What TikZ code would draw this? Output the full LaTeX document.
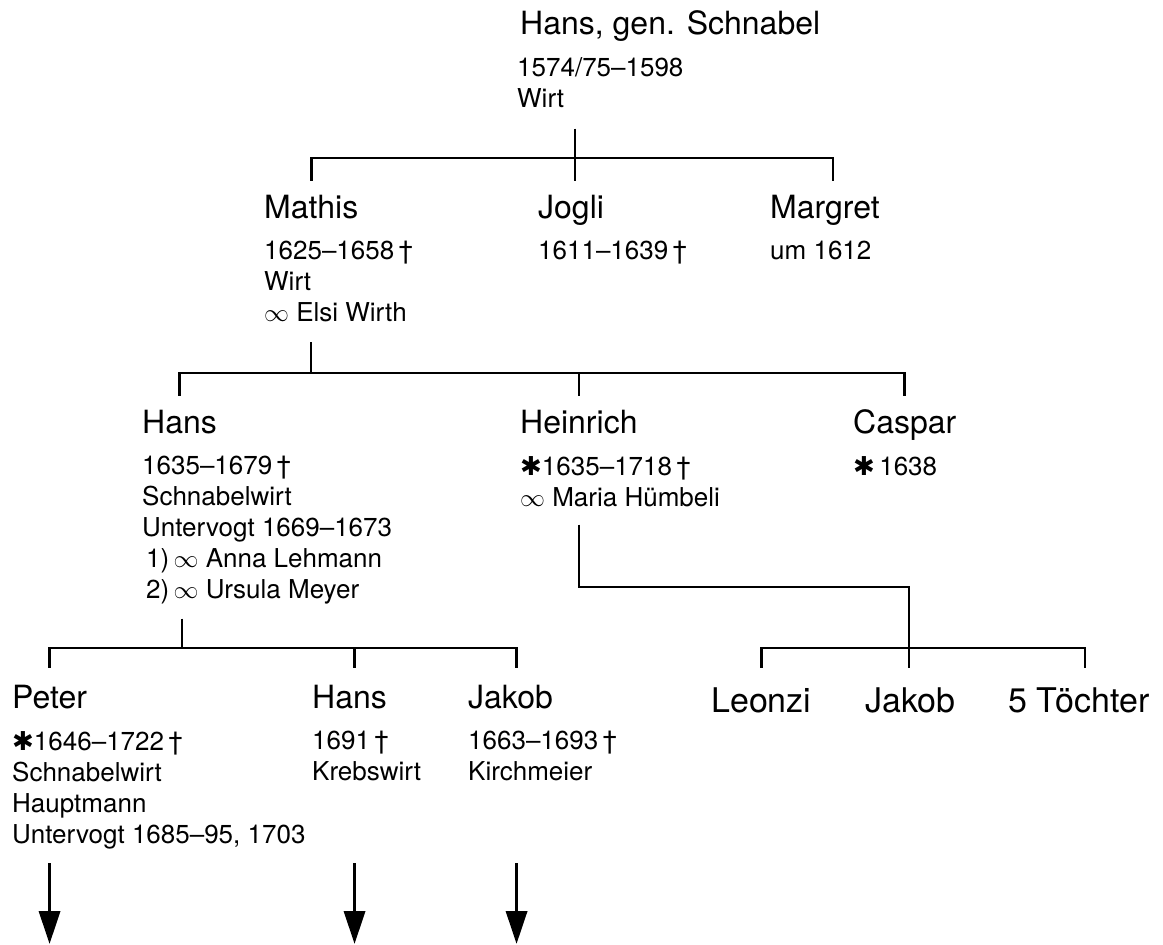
\documentclass[tikz,border=0pt]{standalone}
\usepackage{fontspec}
\setmainfont{TeX Gyre Heros}
\newfontfamily\symfont{DejaVu Sans}
\usetikzlibrary{positioning,arrows.meta}

\newcommand{\dd}{\,\textdagger}
\newcommand{\born}{{\symfont ✱}}
\newcommand{\marr}{$\infty$}

\begin{document}
\begin{tikzpicture}[x=1pt,y=-1pt,
	person/.style={font=\fontsize{32}{32}\selectfont, inner sep=0pt, text height=22pt, anchor=base west},
	kid/.style={person, font=\fontsize{34}{34}\selectfont, text height=24pt},
	info/.style={font=\fontsize{26}{31}\selectfont, align=left, inner sep=0pt},
	under/.style={below=23pt of #1, anchor=north west},
	tree/.style={line width=2.6pt},
	descent/.style={line width=3.6pt, -{Triangle[length=33pt,width=21pt]}}]
	\useasboundingbox (0,0) rectangle (1163,945);

	% Stammvater
	\node[person] (schnabel) at (520,34) {Hans, gen. Schnabel};
	\node[info, under=schnabel.base west, xshift=-3pt] (schnabelinfo) {1574/75--1598\\Wirt};

	% 2. Generation
	\node[person] (mathis) at (264,218) {Mathis};
	\node[person] (jogli) at (538,218) {Jogli};
	\node[person] (margret) at (770,218) {Margret};
	\node[info, under=mathis.base west] (mathisinfo) {1625--1658\dd\\Wirt\\\marr{} Elsi Wirth};
	\node[info, under=jogli.base west] (jogliinfo) {1611--1639\dd};
	\node[info, under=margret.base west] (margretinfo) {um 1612};

	% 3. Generation
	\node[person] (hans) at (142,433) {Hans};
	\node[person] (heinrich) at (520,433) {Heinrich};
	\node[person] (caspar) at (853,433) {Caspar};
	\node[info, under=hans.base west] (hansinfo) {1635--1679\dd\\Schnabelwirt\\Untervogt 1669--1673\\\hspace*{4pt}1)\,\marr{} Anna Lehmann\\\hspace*{4pt}2)\,\marr{} Ursula Meyer};
	\node[info, under=heinrich.base west] (heinrichinfo) {\born1635--1718\dd\\\marr{} Maria Hümbeli};
	\node[info, under=caspar.base west] (casparinfo) {\born\,1638};

	% 4. Generation
	\node[person] (peter) at (12,708) {Peter};
	\node[person] (hansk) at (312,708) {Hans};
	\node[person] (jakob) at (468,708) {Jakob};
	\node[info, under=peter.base west] (peterinfo) {\born1646--1722\dd\\Schnabelwirt\\Hauptmann\\Untervogt 1685--95, 1703};
	\node[info, under=hansk.base west] (hanskinfo) {1691\dd\\Krebswirt};
	\node[info, under=jakob.base west] (jakobinfo) {1663--1693\dd\\Kirchmeier};
	\node[kid] (leonzi) at (711,712) {Leonzi};
	\node[kid] (jakobh) at (865,712) {Jakob};
	\node[kid] (toechter) at (1008,712) {5 Töchter};

	% Verbindungen
	\coordinate (sj) at (575,158);
	\coordinate (mj) at (311,373);
	\coordinate (hj) at (182,648);
	\coordinate (ij) at (909,587);
	\coordinate (kj) at (909,648);
	\draw[tree] ([yshift=-21pt]schnabelinfo.south -| sj) -- (sj);
	\draw[tree, shorten <=15pt, shorten >=15pt] (mathis.north) |- (sj) -| ([xshift=8pt]margret.north);
	\draw[tree, shorten >=15pt] (sj) -- (sj |- jogli.north);
	\draw[tree] ([yshift=-20pt]mathisinfo.south -| mj) -- (mj);
	\draw[tree, shorten <=15pt, shorten >=15pt] (hans.north) |- (mj) -| (caspar.north);
	\draw[tree, shorten <=15pt] (heinrich.north) -- (heinrich.north |- mj);
	\draw[tree] ([yshift=-14pt]hansinfo.south -| hj) -- (hj);
	\draw[tree, shorten <=18pt, shorten >=18pt] (peter.north) |- (hj) -| ([xshift=6pt]jakob.north);
	\draw[tree, shorten <=18pt] ([xshift=5pt]hansk.north) -- ([xshift=5pt]hansk.north |- hj);
	\draw[tree, shorten >=20pt] ([yshift=-18pt]heinrichinfo.south -| heinrich.north) |- (ij) -- (ij |- jakobh.north);
	\draw[tree, shorten <=20pt, shorten >=20pt] (leonzi.north) |- (kj) -| ([xshift=6pt]toechter.north);

	% Nachkommen
	\coordinate (arrowtop) at (0,863);
	\coordinate (arrowend) at (0,944);
	\draw[descent] (peter.north |- arrowtop) -- (peter.north |- arrowend);
	\draw[descent] ([xshift=5pt]hansk.north |- arrowtop) -- ([xshift=5pt]hansk.north |- arrowend);
	\draw[descent] ([xshift=6pt]jakob.north |- arrowtop) -- ([xshift=6pt]jakob.north |- arrowend);
\end{tikzpicture}
\end{document}
